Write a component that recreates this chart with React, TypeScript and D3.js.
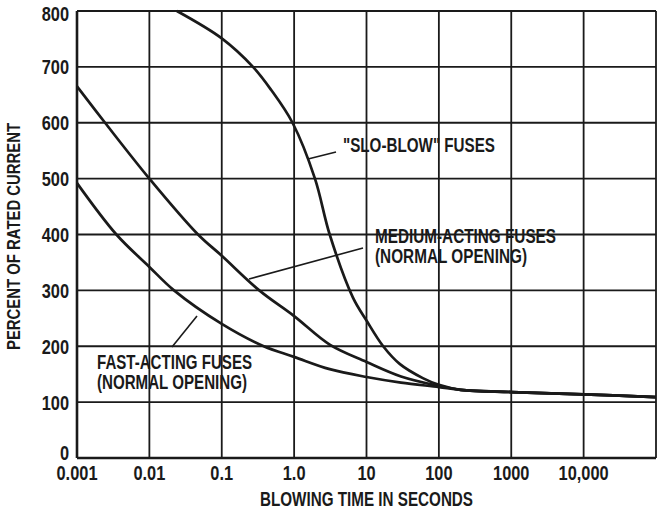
import React from "react";
import * as d3 from "d3";

const xTicks = [0.001, 0.01, 0.1, 1, 10, 100, 1000, 10000, 100000];
const xTickLabels = ["0.001", "0.01", "0.1", "1.0", "10", "100", "1000", "10,000", ""];
const yTicks = [0, 100, 200, 300, 400, 500, 600, 700, 800];

const sloBlowTime = [0.024, 0.1, 0.27, 0.48, 0.95, 1.94, 3.1, 6.5, 10, 17, 29, 60, 100, 200, 1000, 10000, 100000];
const sloBlowPct = [800, 751, 700, 659, 600, 500, 400, 287, 246, 200, 168, 143, 131, 122, 118, 114, 109];

const mediumTime = [0.001, 0.00244, 0.01, 0.047, 0.1, 0.33, 1, 3.1, 10, 30, 100, 200, 1000, 10000, 100000];
const mediumPct = [665, 600, 500, 400, 362, 300, 254, 203, 172, 146, 129, 122, 118, 114, 109];

const fastTime = [0.001, 0.0035, 0.01, 0.0219, 0.1, 0.38, 1, 3.1, 10, 30, 100, 200, 1000, 10000, 100000];
const fastPct = [492, 400, 342, 300, 240, 200, 181, 159, 145, 135, 127, 122, 118, 114, 109];

const series = [
  { name: "slo", time: sloBlowTime, pct: sloBlowPct },
  { name: "medium", time: mediumTime, pct: mediumPct },
  { name: "fast", time: fastTime, pct: fastPct },
];

const W = 659;
const H = 511;
const M = { left: 77, top: 11, right: 3, bottom: 53 };
const FONT = "'Liberation Sans', Arial, sans-serif";
const INK = "#1a1a1a";

export default function App() {
  const x = d3.scaleLog().domain([0.001, 100000]).range([M.left, W - M.right]);
  const y = d3.scaleLinear().domain([0, 800]).range([H - M.bottom, M.top]);
  const line = d3
    .line<[number, number]>()
    .x((d) => x(d[0]))
    .y((d) => y(d[1]))
    .curve(d3.curveCatmullRom.alpha(0.5));

  const textStyle: React.CSSProperties = { fontFamily: FONT, fontWeight: 700, fill: INK };

  const Narrow = ({ tx, ty, anchor, size, children }: any) => (
    <text
      transform={`translate(${tx},${ty}) scale(0.78,1)`}
      textAnchor={anchor}
      fontSize={size}
      style={textStyle}
    >
      {children}
    </text>
  );

  const Fit = ({ tx, ty, len, size, rotate, anchor, children }: any) => (
    <text
      transform={`translate(${tx},${ty})${rotate ? ` rotate(${rotate})` : ""}`}
      textAnchor={anchor || "start"}
      fontSize={size}
      textLength={len}
      lengthAdjust="spacingAndGlyphs"
      style={textStyle}
    >
      {children}
    </text>
  );

  const yLabelOffset = (t: number) => (t === 0 ? 2 : t === 800 ? 10 : 7.5);

  return (
    <svg width={W} height={H} style={{ position: "absolute", left: 0, top: 0, background: "#fff" }}>
      <rect x={0} y={0} width={W} height={H} fill="#fff" />
      {/* grid */}
      {xTicks.map((t) => (
        <line key={"vx" + t} x1={x(t)} x2={x(t)} y1={y(0)} y2={y(800)} stroke={INK} strokeWidth={t === 0.001 ? 2.6 : 1.8} />
      ))}
      {yTicks.map((t) => (
        <line key={"hy" + t} x1={x(0.001)} x2={x(100000)} y1={y(t)} y2={y(t)} stroke={INK} strokeWidth={t === 0 ? 2.6 : 1.8} />
      ))}
      {/* curves */}
      {series.map((s) => (
        <path
          key={s.name}
          d={line(s.time.map((t, i) => [t, s.pct[i]] as [number, number])) || ""}
          fill="none"
          stroke={INK}
          strokeWidth={2.7}
        />
      ))}
      {/* tick labels */}
      {yTicks.map((t) => (
        <Narrow key={"yl" + t} tx={x(0.001) - 8} ty={y(t) + yLabelOffset(t)} anchor="end" size={21}>
          {t}
        </Narrow>
      ))}
      {xTicks.map((t, i) => (
        <Narrow key={"xl" + t} tx={x(t)} ty={y(0) + 22} anchor="middle" size={21}>
          {xTickLabels[i]}
        </Narrow>
      ))}
      {/* axis titles */}
      <Fit tx={260} ty={506} len={213} size={20}>
        BLOWING TIME IN SECONDS
      </Fit>
      <Fit tx={20} ty={350} len={227} size={19} rotate={-90}>
        PERCENT OF RATED CURRENT
      </Fit>
      {/* annotations */}
      <line x1={308} y1={159} x2={336} y2={152} stroke={INK} strokeWidth={1.6} />
      <Fit tx={343} ty={152} len={152} size={21}>
        "SLO-BLOW" FUSES
      </Fit>
      <line x1={249} y1={279} x2={363} y2={248} stroke={INK} strokeWidth={1.6} />
      <Fit tx={375} ty={243} len={181} size={20}>
        MEDIUM-ACTING FUSES
      </Fit>
      <Fit tx={375} ty={263} len={152} size={20}>
        (NORMAL OPENING)
      </Fit>
      <line x1={172} y1={347} x2={197} y2={316} stroke={INK} strokeWidth={1.6} />
      <Fit tx={97} ty={369} len={155} size={20}>
        FAST-ACTING FUSES
      </Fit>
      <Fit tx={97} ty={389} len={150} size={20}>
        (NORMAL OPENING)
      </Fit>
    </svg>
  );
}
